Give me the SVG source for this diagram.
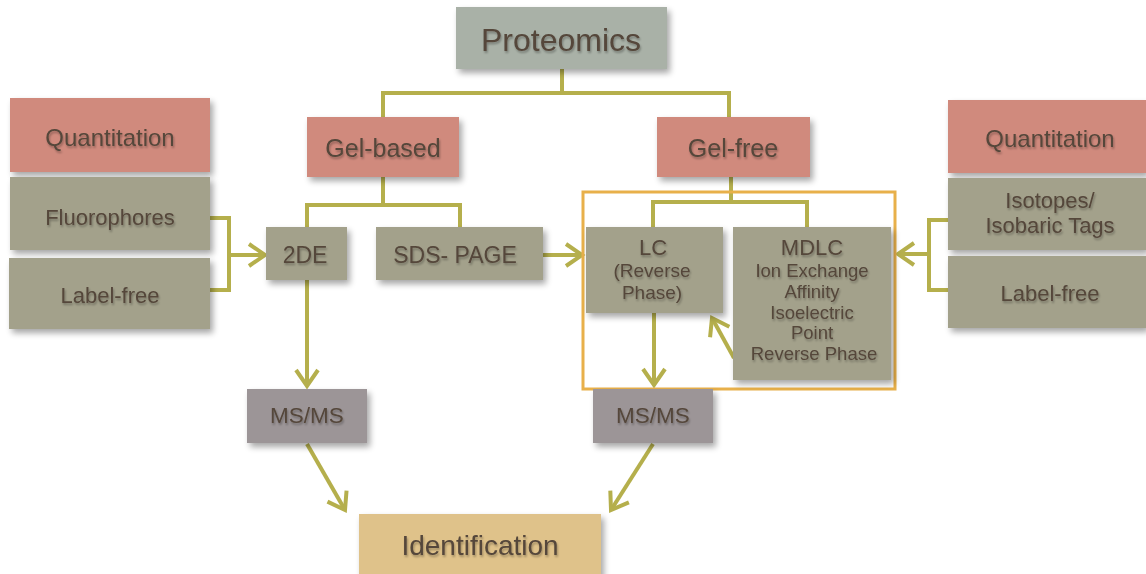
<svg xmlns="http://www.w3.org/2000/svg" width="1146" height="574" viewBox="0 0 1146 574">
<defs>
<filter id="sh" x="-20%" y="-20%" width="140%" height="150%">
<feGaussianBlur in="SourceAlpha" stdDeviation="3"/>
<feOffset dx="3" dy="4" result="b"/>
<feComponentTransfer><feFuncA type="linear" slope="0.35"/></feComponentTransfer>
<feMerge><feMergeNode/><feMergeNode in="SourceGraphic"/></feMerge>
</filter>
<filter id="ts" x="-10%" y="-20%" width="120%" height="150%">
<feGaussianBlur in="SourceAlpha" stdDeviation="1.2"/>
<feOffset dx="1" dy="2"/>
<feComponentTransfer><feFuncA type="linear" slope="0.3"/></feComponentTransfer>
<feMerge><feMergeNode/><feMergeNode in="SourceGraphic"/></feMerge>
</filter>
<marker id="ah" viewBox="0 0 30 30" refX="21" refY="15" markerWidth="30" markerHeight="30" markerUnits="userSpaceOnUse" orient="auto">
<path d="M5,4 L21,15 L5,26" fill="none" stroke="#b5af4c" stroke-width="4" stroke-linejoin="miter"/>
</marker>
</defs>
<style>
text{font-family:"Liberation Sans",Arial,sans-serif;fill:#54463a;text-anchor:middle;filter:url(#ts)}
.b{filter:url(#sh)}
.g{fill:#a3a18b}
.r{fill:#d08a7d}
.p{fill:#a9b1a7}
.m{fill:#9c9597}
.y{fill:#dfc28a}
.c{fill:none;stroke:#b5af4c;stroke-width:4}
.a{marker-end:url(#ah)}
</style>
<rect width="1146" height="574" fill="#ffffff"/>
<g id="connectors">
<path class="c" d="M562,69 V93 H383 V117 M562,93 H729 V117"/>
<path class="c" d="M383,177 V205 H307 V227 M383,205 H460 V227"/>
<path class="c" d="M731,177 V202 H653 V227 M731,202 H807 V227"/>
<path class="c" d="M210,218 H229 V290 H210"/>
<path class="c a" d="M229,255 H265"/>
<path class="c a" d="M543,255 H582"/>
<path class="c" d="M948,220 H929 V290 H948"/>
<path class="c a" d="M929,254 H898"/>
<path class="c a" d="M307,280 V386"/>
<path class="c a" d="M654,313 V385"/>
<path class="c a" d="M734,358 L712,318"/>
<path class="c a" d="M307,444 L345,510"/>
<path class="c a" d="M653,444 L611,510"/>
<rect x="583" y="192" width="312" height="197" fill="none" stroke="#e8b04a" stroke-width="3"/>
</g>
<g id="proteomics"><rect class="b p" x="456" y="7" width="211" height="62"/><text x="561" y="51" font-size="32">Proteomics</text></g>
<g id="gel-based"><rect class="b r" x="307" y="117" width="152" height="60"/><text x="383" y="157" font-size="25">Gel-based</text></g>
<g id="gel-free"><rect class="b r" x="657" y="117" width="153" height="60"/><text x="733" y="157" font-size="25">Gel-free</text></g>
<g id="quant-left"><rect class="b r" x="10" y="98" width="200" height="74"/><text x="110" y="146" font-size="24">Quantitation</text></g>
<g id="fluorophores"><rect class="b g" x="10" y="177" width="200" height="73"/><text x="110" y="225" font-size="22">Fluorophores</text></g>
<g id="labelfree-left"><rect class="b g" x="9" y="258" width="201" height="71"/><text x="110" y="303" font-size="22">Label-free</text></g>
<g id="twode"><rect class="b g" x="266" y="227" width="81" height="53"/><text x="305" y="263" font-size="23">2DE</text></g>
<g id="sdspage"><rect class="b g" x="376" y="227" width="167" height="53"/><text x="455" y="263" font-size="23">SDS- PAGE</text></g>
<g id="lc"><rect class="b g" x="586" y="227" width="137" height="86"/><text x="653" y="255" font-size="22">LC</text><text x="652" y="277" font-size="19">(Reverse</text><text x="652" y="299" font-size="19">Phase)</text></g>
<g id="mdlc"><rect class="b g" x="733" y="227" width="158" height="153"/><text x="812" y="255" font-size="22">MDLC</text><text x="812" y="277" font-size="18.5">Ion Exchange</text><text x="812" y="298" font-size="18.5">Affinity</text><text x="812" y="319" font-size="18.5">Isoelectric</text><text x="812" y="339" font-size="18.5">Point</text><text x="814" y="360" font-size="18.5">Reverse Phase</text></g>
<g id="quant-right"><rect class="b r" x="948" y="100" width="198" height="73"/><text x="1050" y="147" font-size="24">Quantitation</text></g>
<g id="isotopes"><rect class="b g" x="948" y="178" width="198" height="72"/><text x="1050" y="208" font-size="22">Isotopes/</text><text x="1050" y="233" font-size="22">Isobaric Tags</text></g>
<g id="labelfree-right"><rect class="b g" x="948" y="256" width="198" height="72"/><text x="1050" y="301" font-size="22">Label-free</text></g>
<g id="msms-left"><rect class="b m" x="247" y="389" width="120" height="54"/><text x="307" y="423" font-size="22.5">MS/MS</text></g>
<g id="msms-right"><rect class="b m" x="593" y="389" width="120" height="54"/><text x="653" y="423" font-size="22.5">MS/MS</text></g>
<g id="identification"><rect class="b y" x="359" y="514" width="242" height="64"/><text x="480" y="555" font-size="28">Identification</text></g>
</svg>
